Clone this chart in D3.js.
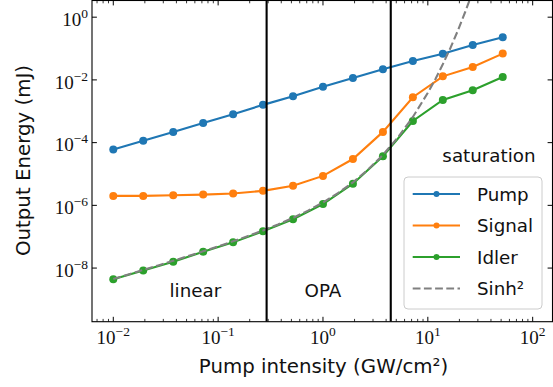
<!DOCTYPE html>
<html><head><meta charset="utf-8">
<script src="https://cdn.jsdelivr.net/npm/d3@7"></script>
<style>
html,body{margin:0;padding:0;background:#fff;}
svg{display:block;}
text{font-family:"DejaVu Sans",sans-serif;fill:#111;}
.tick-label{font-family:"Liberation Serif","DejaVu Serif",serif;}
</style></head>
<body>
<svg id="chart" width="553" height="387"></svg>
<script>
// ---- data ----
const intensity = [0.01, 0.0193, 0.0373, 0.0720, 0.139, 0.268, 0.518, 1.0, 1.93, 3.73, 7.20, 13.9, 26.8, 51.8];
const pump   = [6.0e-5, 1.15e-4, 2.2e-4, 4.2e-4, 8.1e-4, 1.6e-3, 3.0e-3, 6.0e-3, 1.15e-2, 2.2e-2, 4.0e-2, 6.8e-2, 0.13, 0.23];
const signal = [2.0e-6, 2.0e-6, 2.1e-6, 2.2e-6, 2.4e-6, 2.9e-6, 4.2e-6, 8.7e-6, 3.0e-5, 2.2e-4, 2.8e-3, 1.3e-2, 2.6e-2, 6.9e-2];
const idler  = [4.4e-9, 8.3e-9, 1.6e-8, 3.3e-8, 6.6e-8, 1.5e-7, 3.6e-7, 1.1e-6, 4.9e-6, 3.7e-5, 4.9e-4, 2.3e-3, 4.7e-3, 1.23e-2];
const sinhX  = [0.01, 0.01389, 0.01931, 0.02683, 0.03728, 0.05179, 0.07197, 0.1, 0.1389, 0.1931, 0.2683, 0.3728, 0.5179, 0.7197, 1, 1.389, 1.931, 2.683, 3.728, 5.179, 7.197, 10, 11.79, 13.89, 16.38, 19.31, 22.76, 24.71, 26.83];
const sinhY  = [4.45e-9, 6.21e-9, 8.68e-9, 1.217e-8, 1.711e-8, 2.417e-8, 3.435e-8, 4.925e-8, 7.147e-8, 1.054e-7, 1.589e-7, 2.468e-7, 3.988e-7, 6.788e-7, 1.2365e-6, 2.455e-6, 5.429e-6, 1.371e-5, 4.064e-5, 1.4585e-4, 6.574e-4, 3.877e-3, 1.057e-2, 3.141e-2, 0.1023, 0.3694, 1.490, 3.128, 6.760];
const regionBounds = [0.29, 4.43];
const regionLabels = [{t:"linear", x:0.0607, y:1.17e-9}, {t:"OPA", x:1.0, y:1.17e-9}, {t:"saturation", x:38.3, y:2.5e-5}];
const xTicks = [1e-2, 1e-1, 1e0, 1e1, 1e2];
const xTickExp = ["−2", "−1", "0", "1", "2"];
const yTicks = [1e0, 1e-2, 1e-4, 1e-6, 1e-8];
const yTickExp = ["0", "−2", "−4", "−6", "−8"];
const seriesNames = ["Pump", "Signal", "Idler", "Sinh²"];
const colors = ["#1f77b4", "#ff7f0e", "#2ca02c", "#808080"];

// ---- layout ----
const L = 92, R = 552.5, T = 0.5, B = 321.7;
const x = d3.scaleLog().domain([Math.pow(10, -2.203), Math.pow(10, 2.189)]).range([L, R]);
const y = d3.scaleLog().domain([Math.pow(10, -9.71), Math.pow(10, 0.532)]).range([B, T]);

const svg = d3.select("#chart");
svg.append("defs").append("clipPath").attr("id", "clip")
  .append("rect").attr("x", L).attr("y", T).attr("width", R - L).attr("height", B - T);

const plot = svg.append("g").attr("clip-path", "url(#clip)");
const line = d3.line().x(d => x(d[0])).y(d => y(d[1]));

const series = [pump, signal, idler];
series.forEach((s, i) => {
  const pts = intensity.map((v, k) => [v, s[k]]);
  plot.append("path").datum(pts).attr("d", line)
    .attr("fill", "none").attr("stroke", colors[i]).attr("stroke-width", 2.1);
  plot.selectAll(null).data(pts).enter().append("circle")
    .attr("cx", d => x(d[0])).attr("cy", d => y(d[1])).attr("r", 4)
    .attr("fill", colors[i]);
});
plot.append("path").datum(sinhX.map((v, k) => [v, sinhY[k]])).attr("d", line)
  .attr("fill", "none").attr("stroke", colors[3]).attr("stroke-width", 2.1)
  .attr("stroke-dasharray", "7.8,3.4");

regionBounds.forEach(b => {
  plot.append("line").attr("x1", x(b)).attr("x2", x(b)).attr("y1", T).attr("y2", B)
    .attr("stroke", "#000").attr("stroke-width", 2.1);
});

regionLabels.forEach(r => {
  svg.append("text").attr("x", x(r.x)).attr("y", y(r.y)).attr("text-anchor", "middle")
    .attr("font-size", 18.3).text(r.t);
});

// ---- axes (ticks inward, all four sides) ----
const axes = svg.append("g");
const minorX = [];
for (let e = -3; e <= 2; e++) for (let m = 2; m <= 9; m++) {
  const v = m * Math.pow(10, e);
  if (x(v) >= L && x(v) <= R) minorX.push(v);
}
const tickW = 1;
[[B, -1], [T, 1]].forEach(([yy, dir]) => {
  xTicks.forEach(v => axes.append("line").attr("x1", x(v)).attr("x2", x(v))
    .attr("y1", yy).attr("y2", yy + dir * 4.9).attr("stroke", "#000").attr("stroke-width", tickW));
  minorX.forEach(v => axes.append("line").attr("x1", x(v)).attr("x2", x(v))
    .attr("y1", yy).attr("y2", yy + dir * 2.8).attr("stroke", "#000").attr("stroke-width", 0.8));
});
[[L, 1], [R, -1]].forEach(([xx, dir]) => {
  yTicks.forEach(v => axes.append("line").attr("y1", y(v)).attr("y2", y(v))
    .attr("x1", xx).attr("x2", xx + dir * 4.9).attr("stroke", "#000").attr("stroke-width", tickW));
});
axes.append("rect").attr("x", L).attr("y", T).attr("width", R - L).attr("height", B - T)
  .attr("fill", "none").attr("stroke", "#000").attr("stroke-width", 1.1);

// tick labels
xTicks.forEach((v, i) => {
  const t = svg.append("text").attr("class", "tick-label").attr("x", x(v)).attr("y", 343.5)
    .attr("text-anchor", "middle").attr("font-size", 19);
  t.append("tspan").text("10");
  t.append("tspan").attr("font-size", 13.5).attr("dy", -8).text(xTickExp[i]);
});
yTicks.forEach((v, i) => {
  const t = svg.append("text").attr("class", "tick-label").attr("x", 88).attr("y", y(v) + 8.8)
    .attr("text-anchor", "end").attr("font-size", 19);
  t.append("tspan").text("10");
  t.append("tspan").attr("font-size", 13.5).attr("dy", -8).text(yTickExp[i]);
});

// axis titles
svg.append("text").attr("x", 323.5).attr("y", 373).attr("text-anchor", "middle")
  .attr("font-size", 19.8).text("Pump intensity (GW/cm²)");
svg.append("text").attr("transform", `translate(30,160.5) rotate(-90)`)
  .attr("text-anchor", "middle").attr("font-size", 19.8).text("Output Energy (mJ)");

// ---- legend ----
const lg = svg.append("g");
lg.append("rect").attr("x", 404).attr("y", 177).attr("width", 138).attr("height", 132)
  .attr("rx", 4).attr("fill", "#fff").attr("fill-opacity", 0.8)
  .attr("stroke", "#cccccc").attr("stroke-width", 1);
seriesNames.forEach((n, i) => {
  const yy = 194 + i * 31.5;
  const ln = lg.append("line").attr("x1", 412.7).attr("x2", 460).attr("y1", yy).attr("y2", yy)
    .attr("stroke", colors[i]).attr("stroke-width", 2.1);
  if (i === 3) ln.attr("stroke-dasharray", "7.8,3.4");
  else lg.append("circle").attr("cx", 436.5).attr("cy", yy).attr("r", 3).attr("fill", colors[i]);
  lg.append("text").attr("x", 477).attr("y", yy + 6.5).attr("font-size", 18.3).text(n);
});
</script>
</body></html>
